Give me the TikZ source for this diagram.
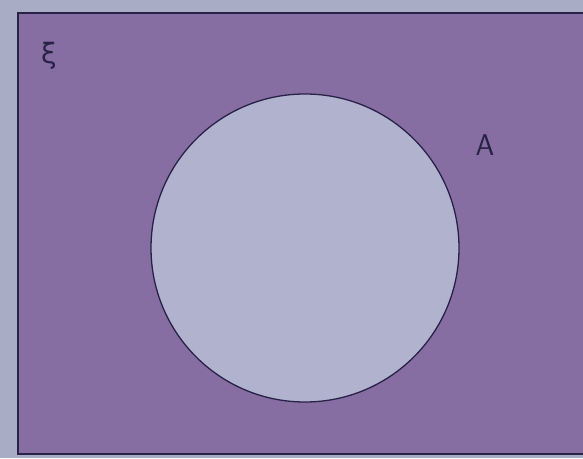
\documentclass[tikz,border=0pt]{standalone}
\usepackage{fontspec}
\usepackage{tikz}
\usetikzlibrary{shapes,positioning,calc}

\newfontfamily\greekfont{DejaVu Sans}

\definecolor{paper}{RGB}{168,172,196}
\definecolor{univfill}{RGB}{134,110,162}
\definecolor{setfill}{RGB}{176,178,206}
\definecolor{edge}{RGB}{40,34,70}

\begin{document}
\begin{tikzpicture}[x=1pt, y=1pt,
      univ/.style={rectangle, draw=edge, line width=2pt, fill=univfill,
                   inner sep=0pt},
      setc/.style={circle, draw=edge, line width=1.3pt, fill=setfill,
                   minimum size=308pt, inner sep=0pt},
      lbl/.style={text=edge, inner sep=0pt, font=\fontsize{30}{30}\selectfont\sffamily},
    ]

    % Page and background
    \useasboundingbox (0, 0) rectangle (583, 458);
    \fill[paper] (0, 0) rectangle (583, 458);

    % Universal set
    \node[univ, minimum width=580pt, minimum height=441pt] (xi) at (308, 224.5) {};

    % Set A
    \node[setc] (A) at (305, 210) {};

    % Labels
    \node[lbl, font=\fontsize{28}{28}\selectfont\greekfont] (xilbl) at (49, 402) {ξ};
    \node[lbl] (albl) at (485, 313) {A};

\end{tikzpicture}
\end{document}
